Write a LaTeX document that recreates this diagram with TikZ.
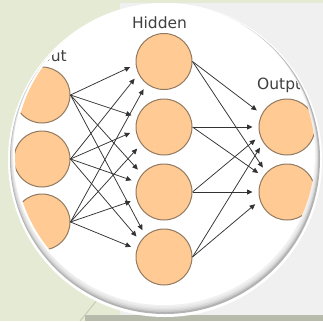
\documentclass[tikz,border=0pt]{standalone}
\usepackage{fontspec}
\setsansfont{DejaVu Sans}
\usetikzlibrary{arrows.meta}
\definecolor{sage}{HTML}{E5EAD5}
\definecolor{sageline}{HTML}{C6CDB2}
\definecolor{panel}{HTML}{F0F0F0}
\definecolor{panelrim}{HTML}{B7BBAB}
\definecolor{peach}{HTML}{FFCA94}
\definecolor{rim}{HTML}{927A60}
\definecolor{wire}{HTML}{333333}
\definecolor{labelink}{HTML}{404040}

\begin{document}
\begin{tikzpicture}[x=1pt,y=-1pt,
    unit/.style={circle,draw=rim,line width=1pt,fill=peach,minimum size=56pt,inner sep=0pt},
    wire/.style={draw=wire,line width=0.75pt,-{Triangle[length=5.5pt,width=5pt]},shorten >=6pt},
    layer/.style={font=\sffamily\fontsize{15.5}{15.5}\selectfont,text=labelink,inner sep=0pt}]
  % backdrop
  \fill[sage] (0,0) rectangle (323,321);
  \fill[panel] (120,3) rectangle (323,315);
  \fill[panelrim] (85,315) rectangle (323,321);
  \draw[sageline,line width=1pt] (80,321) -- (102,294);
  % plate with its rim shade
  \fill[white] (165,160) circle (157);
  \fill[black!30] (165,159) circle (155);
  \foreach \k in {1,...,5}
    \fill[white,opacity=0.3] (164.5,154+\k*0.8) circle (151+\k*0.6);
  \fill[white] (164,154) circle (151);
  \begin{scope}
    \clip (165,154) circle (150);
    \node[unit] (inA) at (42,95) {};
    \node[unit] (inB) at (42,159) {};
    \node[unit] (inC) at (42,222) {};
    \node[unit] (hidA) at (164,61.5) {};
    \node[unit] (hidB) at (164,127) {};
    \node[unit] (hidC) at (164,192) {};
    \node[unit] (hidD) at (164,257) {};
    \node[unit] (outA) at (287,127) {};
    \node[unit] (outB) at (287,192) {};
    \node[layer,anchor=base east] (inLabel) at (67,61) {Input};
    \node[layer,anchor=base] (hidLabel) at (159.5,28.5) {Hidden};
    \node[layer,anchor=base west] (outLabel) at (257,89.5) {Output};
    \foreach \src/\a/\b/\c/\d in {inA/186/160/141/131,inB/206/187/160/146,inC/232/217/195/164}{
      \draw[wire] (\src.east) -- (hidA.\a);
      \draw[wire] (\src.east) -- (hidB.\b);
      \draw[wire] (\src.east) -- (hidC.\c);
      \draw[wire] (\src.east) -- (hidD.\d);}
    \foreach \src/\a/\b in {hidA/153/137,hidB/180/147,hidC/198/180,hidD/213/197}{
      \draw[wire] (\src.east) -- (outA.\a);
      \draw[wire] (\src.east) -- (outB.\b);}
  \end{scope}
\end{tikzpicture}
\end{document}
